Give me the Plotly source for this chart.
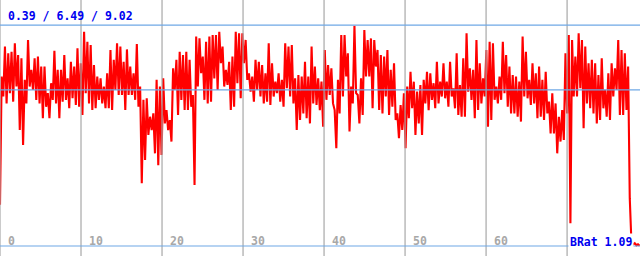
import numpy as np
import plotly.graph_objects as go

# ---- data ----
brat_values = [
    2.00,
    # 0 - 13 units
    7.01, 6.23, 8.18, 5.96, 7.92, 6.36, 7.98, 6.03, 8.31, 6.62, 7.85, 4.92,
    7.72, 4.34, 6.88, 5.96, 8.44, 6.62, 7.27, 6.49, 7.72, 6.10, 7.79, 5.96,
    7.40, 5.38, 7.40, 5.83, 6.36, 5.38, 6.75, 6.10, 8.02, 5.96, 7.27, 5.38,
    7.27, 6.03, 7.85, 6.10, 6.94, 5.77, 7.59, 6.16, 7.40, 5.90, 8.11, 5.83,
    7.53, 5.51, 8.76, 6.36, 8.37, 5.96, 8.24, 5.70, 7.46, 5.77, 7.01, 6.10,
    6.94, 5.96, 6.62, 5.77, 7.14, 5.77,
    # 13 - 26 units
    8.05, 5.70, 7.66, 6.49, 8.31, 6.29, 8.18, 6.29, 7.59, 5.70, 8.07, 6.29,
    7.40, 6.29, 7.14, 6.10, 8.28, 5.83, 6.62, 2.84, 6.10, 3.75, 6.16, 4.73,
    5.44, 4.92, 5.57, 4.01, 6.88, 3.55, 6.62, 3.95, 6.94, 5.18, 5.70, 4.92,
    5.31, 4.47, 7.33, 6.49, 7.66, 5.51, 7.98, 6.10, 7.85, 5.70, 7.98, 5.70,
    7.66, 5.83, 6.29, 2.77, 8.57, 6.62, 8.50, 7.14, 7.79, 6.10, 8.37, 5.96,
    8.57, 6.03, 8.63, 6.94,
    # 26 - 39 units
    8.63, 6.49, 8.76, 7.53, 8.18, 6.62, 7.27, 6.68, 7.59, 5.70, 7.79, 5.83,
    8.76, 6.75, 8.70, 6.16, 8.70, 7.53, 8.44, 6.88, 7.14, 6.42, 7.01, 6.03,
    7.66, 6.49, 7.59, 6.23, 7.46, 5.96, 7.14, 6.03, 8.31, 5.90, 7.53, 6.23,
    6.81, 6.36, 7.14, 6.03, 6.88, 5.83, 8.31, 6.55, 8.18, 6.23, 8.24, 5.96,
    6.94, 4.92, 7.07, 5.31, 7.01, 5.57, 7.59, 5.38, 7.01, 5.18, 8.18, 5.96,
    7.40, 5.90, 6.94, 5.70,
    # 39 - 52 units
    6.81, 5.05, 8.05, 6.10, 7.46, 6.29, 7.33, 5.96, 5.70, 4.21, 6.88, 5.57,
    8.63, 6.23, 8.63, 7.01, 7.92, 4.86, 6.62, 5.96, 8.99, 6.36, 6.29, 5.18,
    6.94, 5.51, 8.83, 7.01, 8.44, 7.01, 8.50, 5.77, 8.44, 7.40, 8.05, 5.70,
    7.85, 5.57, 7.79, 6.23, 8.05, 5.51, 7.27, 5.83, 7.53, 5.31, 5.57, 4.60,
    5.90, 4.92, 6.36, 4.21, 6.62, 5.38, 7.20, 5.77, 6.81, 4.73, 6.42, 5.18,
    6.68, 4.73, 6.88, 5.96,
    # 52 - 65 units
    7.20, 5.70, 7.14, 6.10, 6.75, 5.77, 7.59, 5.96, 6.81, 6.23, 7.53, 6.16,
    6.81, 5.83, 7.59, 6.23, 6.55, 5.77, 7.92, 5.51, 6.68, 5.44, 7.72, 5.44,
    8.70, 6.42, 7.33, 6.10, 7.27, 5.38, 8.44, 5.70, 7.53, 5.96, 6.94, 6.23,
    8.05, 5.05, 8.37, 5.31, 8.31, 6.10, 6.62, 5.96, 7.01, 6.10, 8.37, 6.36,
    7.85, 5.83, 7.40, 5.57, 7.07, 5.57, 7.01, 5.44, 6.81, 5.25, 8.57, 6.23,
    7.98, 6.16, 6.88, 5.90,
    # 65 - 79 units
    7.53, 5.96, 7.14, 5.38, 7.40, 5.44, 6.88, 5.31, 7.20, 5.57, 6.03, 4.79,
    6.36, 4.79, 5.96, 4.01, 5.44, 4.47, 5.70, 4.53, 7.92, 5.57, 8.63, 1.28,
    8.44, 6.23, 7.79, 6.23, 8.70, 6.55, 8.44, 4.99, 8.18, 5.96, 7.53, 5.77,
    7.66, 5.57, 7.53, 5.18, 7.07, 5.31, 7.72, 5.77, 6.49, 5.44, 7.14, 5.31,
    7.53, 6.23, 7.33, 6.49, 8.44, 5.51, 8.05, 5.51, 7.92, 5.70, 7.40, 2.25,
    0.55, 0.45, 0.50, 0.42, 0.46, 0.40,
]
sample_step = 0.2035         # x units between samples
stat_min, stat_avg, stat_max = 0.39, 6.49, 9.02
brat_label = "BRat 1.09"
grid_ticks = [0, 10, 20, 30, 40, 50, 60, 70]
label_ticks = [0, 10, 20, 30, 40, 50, 60]   # "70" is covered by the BRat label
x_range = [0, 79.0]
y_range = [0, 10]

# ---- styles ----
RED = "#ff0000"
BLUE_TEXT = "#0000f0"
BLUE_LINE = "#6fa8e6"
GRAY = "#a8a8a8"
FONT = "DejaVu Sans Mono"

xs = np.arange(len(brat_values)) * sample_step

fig = go.Figure()
fig.add_trace(go.Scatter(x=xs, y=brat_values, mode="lines",
                         line=dict(color=RED, width=2.1), hoverinfo="skip"))

shapes = []
for t in grid_ticks:
    shapes.append(dict(type="line", xref="x", yref="paper", x0=t, x1=t, y0=0, y1=1,
                       line=dict(color=GRAY, width=1.2), layer="above"))
for v in (stat_min, stat_avg, stat_max):
    shapes.append(dict(type="line", xref="paper", yref="y", x0=0, x1=1, y0=v, y1=v,
                       line=dict(color=BLUE_LINE, width=1.2), layer="above"))

annotations = []
for t in label_ticks:
    annotations.append(dict(x=t, y=0, xref="x", yref="paper", text=f"<b>{t}</b>",
                            showarrow=False, xanchor="left", yanchor="bottom",
                            xshift=6, yshift=6,
                            font=dict(family=FONT, size=11.5, color=GRAY)))
annotations.append(dict(x=0, y=1, xref="paper", yref="paper",
                        text=f"<b>{stat_min:.2f} / {stat_avg:.2f} / {stat_max:.2f}</b>",
                        showarrow=False, xanchor="left", yanchor="top",
                        xshift=6, yshift=-7,
                        font=dict(family=FONT, size=11.5, color=BLUE_TEXT)))
annotations.append(dict(x=1, y=0, xref="paper", yref="paper", text=f"<b>{brat_label}</b>",
                        showarrow=False, xanchor="right", yanchor="bottom",
                        xshift=-6, yshift=5, bgcolor="white",
                        font=dict(family=FONT, size=11.5, color=BLUE_TEXT)))

fig.update_layout(
    width=640, height=256, margin=dict(l=0, r=0, t=0, b=0),
    paper_bgcolor="white", plot_bgcolor="white", showlegend=False,
    xaxis=dict(range=x_range, showgrid=False, zeroline=False, showticklabels=False,
               ticks=""),
    yaxis=dict(range=y_range, showgrid=False, zeroline=False, showticklabels=False,
               ticks=""),
    shapes=shapes, annotations=annotations,
)
fig.write_html("out.html")
